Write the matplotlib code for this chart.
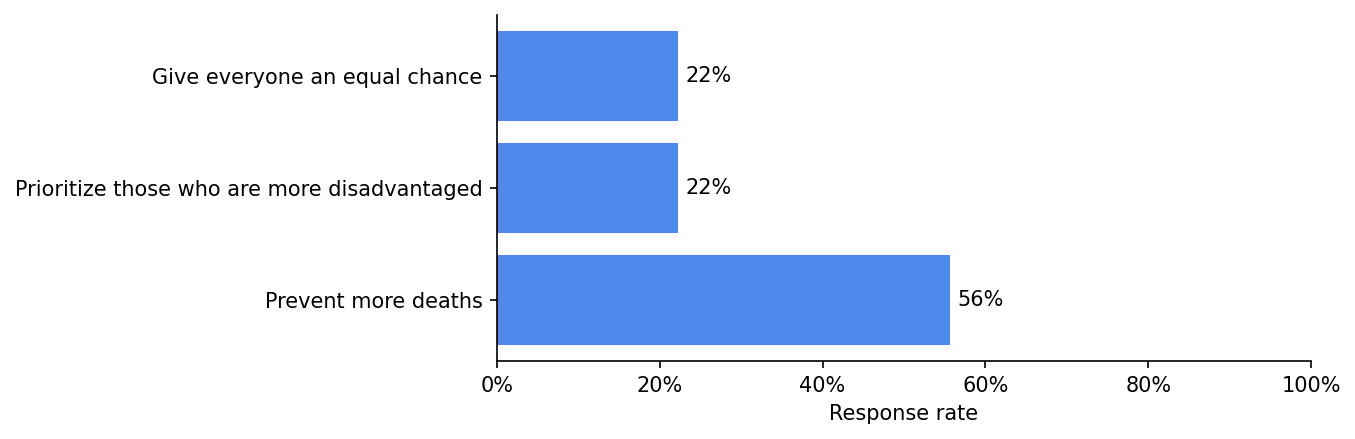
import numpy as np
import matplotlib
matplotlib.use('Agg')
import matplotlib.pyplot as plt
from matplotlib.ticker import PercentFormatter

categories = ['Prevent more deaths', 'Prioritize those who are more disadvantaged', 'Give everyone an equal chance']
rates = [55.6, 22.2, 22.2]
labels = ['56%', '22%', '22%']

fig = plt.figure(figsize=(1355/150, 439/150), dpi=150)
ax = fig.add_axes([497/1355, 1-361/439, 814/1355, 346/439])
y = np.arange(len(categories))
bars = ax.barh(y, rates, height=0.8, color='#5088ee')
for b, lab in zip(bars, labels):
    ax.text(b.get_width() + 1, b.get_y() + b.get_height()/2, lab, va='center', ha='left', fontsize=10)
ax.set_yticks(y)
ax.set_yticklabels(categories, fontsize=10)
ax.set_xlim(0, 100)
ax.set_xticks([0, 20, 40, 60, 80, 100])
ax.xaxis.set_major_formatter(PercentFormatter(decimals=0))
ax.tick_params(labelsize=10)
ax.set_xlabel('Response rate', fontsize=10)
ax.spines['top'].set_visible(False)
ax.spines['right'].set_visible(False)
fig.savefig('out.png', dpi=150)
